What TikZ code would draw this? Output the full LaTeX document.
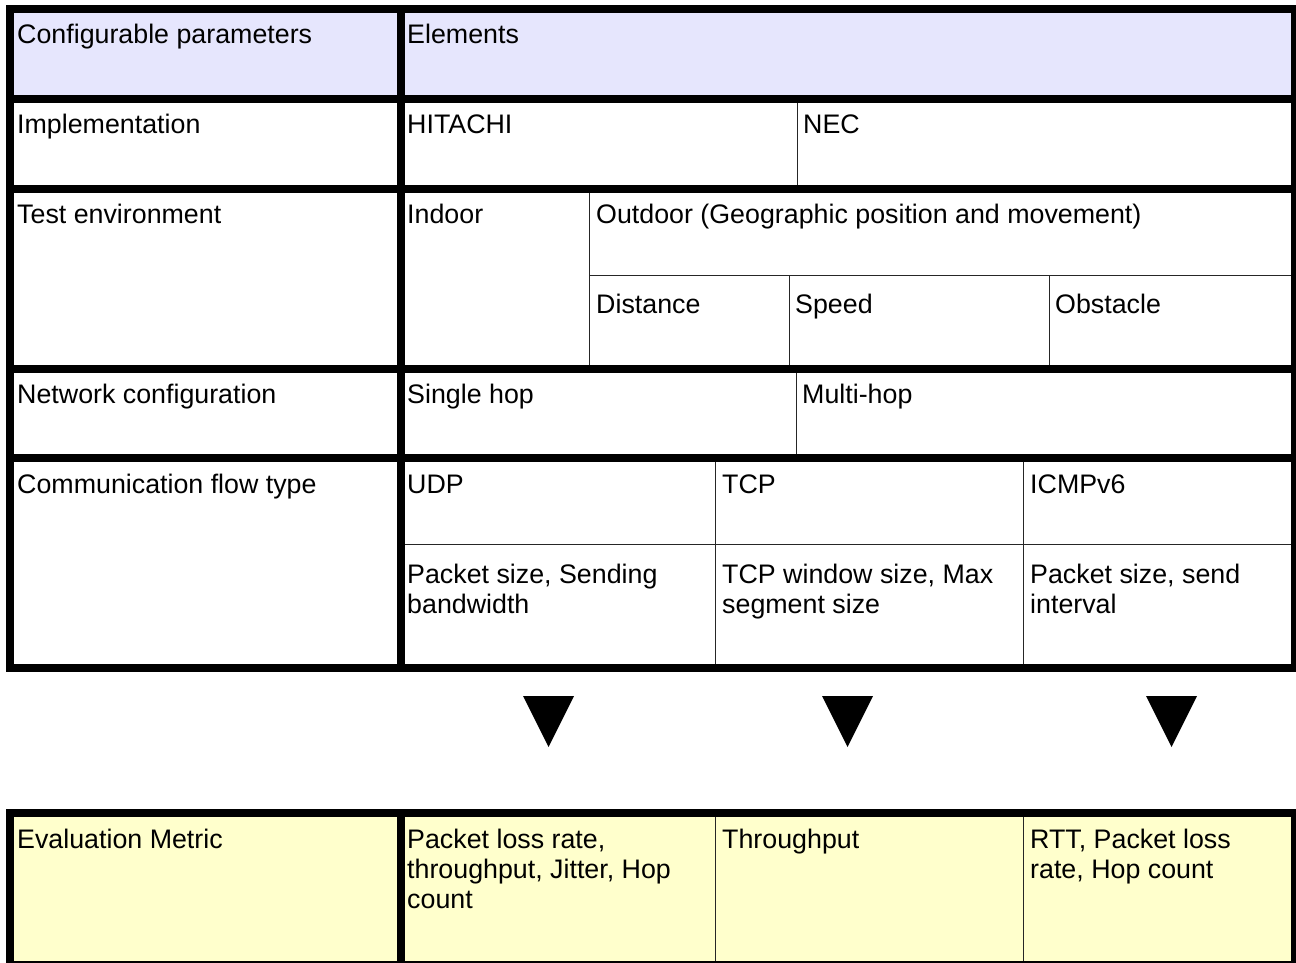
\documentclass[tikz,border=0pt]{standalone}
\usepackage{fontspec}
\setmainfont{Liberation Sans}
\definecolor{hdrfill}{RGB}{230,230,253}
\definecolor{evalfill}{RGB}{255,255,204}
\begin{document}
\begin{tikzpicture}[x=1pt,y=-1pt,
  txt/.style={anchor=north west, inner sep=0pt, align=left,
    font=\fontsize{26.8}{30}\selectfont,
    execute at begin node={\rule{0pt}{24pt}}},
  heavy/.style={line width=8pt},
  light/.style={line width=1pt, draw=black!85},
  marker/.style={fill=black},
]
\useasboundingbox (0,0) rectangle (1296,963);

% cell fills
\fill[hdrfill] (14,13) rectangle (1291,95);
\fill[evalfill] (14,817) rectangle (1291,961);

% thin inner rules of the parameter table
\draw[light] (797,103) -- (797,185);
\draw[light] (589,193) -- (589,365);
\draw[light] (589,275) -- (1291,275);
\draw[light] (789,275) -- (789,365);
\draw[light] (1049,275) -- (1049,365);
\draw[light] (796,372) -- (796,454);
\draw[light] (715,462) -- (715,664);
\draw[light] (1023,462) -- (1023,664);
\draw[light] (404,544) -- (1291,544);

% thin inner rules of the metric table
\draw[light] (715,817) -- (715,961);
\draw[light] (1023,817) -- (1023,961);

% heavy frame of the parameter table
\foreach \yy in {9.5,99,189,368.5,458,668}
  \draw[heavy] (6,\yy) -- (1300,\yy);
\foreach \xx in {10,400.5,1295}
  \draw[heavy] (\xx,6) -- (\xx,672);

% heavy frame of the metric table
\foreach \yy in {813,965}
  \draw[heavy] (6,\yy) -- (1300,\yy);
\foreach \xx in {10,400.5,1295}
  \draw[heavy] (\xx,809) -- (\xx,969);

% header row
\node[txt] (cfg) at (17,19) {Configurable parameters};
\node[txt] (elem) at (407,19) {Elements};

% implementation row
\node[txt] (impl) at (17,109) {Implementation};
\node[txt] (hitachi) at (407,109) {HITACHI};
\node[txt] (nec) at (803,109) {NEC};

% test environment row
\node[txt] (testenv) at (17,199) {Test environment};
\node[txt] (indoor) at (407,199) {Indoor};
\node[txt] (outdoor) at (596,199) {Outdoor (Geographic position and movement)};
\node[txt] (distance) at (596,289) {Distance};
\node[txt] (speed) at (795,289) {Speed};
\node[txt] (obstacle) at (1055,289) {Obstacle};

% network configuration row
\node[txt] (netcfg) at (17,379) {Network configuration};
\node[txt] (single) at (407,379) {Single hop};
\node[txt] (multi) at (802,379) {Multi-hop};

% communication flow row
\node[txt] (flow) at (17,469) {Communication flow type};
\node[txt] (udp) at (407,469) {UDP};
\node[txt] (tcp) at (722,469) {TCP};
\node[txt] (icmp) at (1030,469) {ICMPv6};
\node[txt] (udppar) at (407,564) {Packet size, Sending\\bandwidth};
\node[txt] (tcppar) at (722,564) {TCP window size, Max\\segment size};
\node[txt] (icmppar) at (1030,564) {Packet size, send\\interval};

% downward markers
\fill[marker] (523,696) -- (574,696) -- (548.5,747) -- cycle;
\fill[marker] (822,696) -- (873,696) -- (847.5,747) -- cycle;
\fill[marker] (1146,696) -- (1197,696) -- (1171.5,747) -- cycle;

% evaluation metric row
\node[txt] (metric) at (17,824) {Evaluation Metric};
\node[txt] (udpmet) at (407,829) {Packet loss rate,\\throughput, Jitter, Hop\\count};
\node[txt] (tcpmet) at (722,824) {Throughput};
\node[txt] (icmpmet) at (1030,829) {RTT, Packet loss\\rate, Hop count};
\end{tikzpicture}
\end{document}
